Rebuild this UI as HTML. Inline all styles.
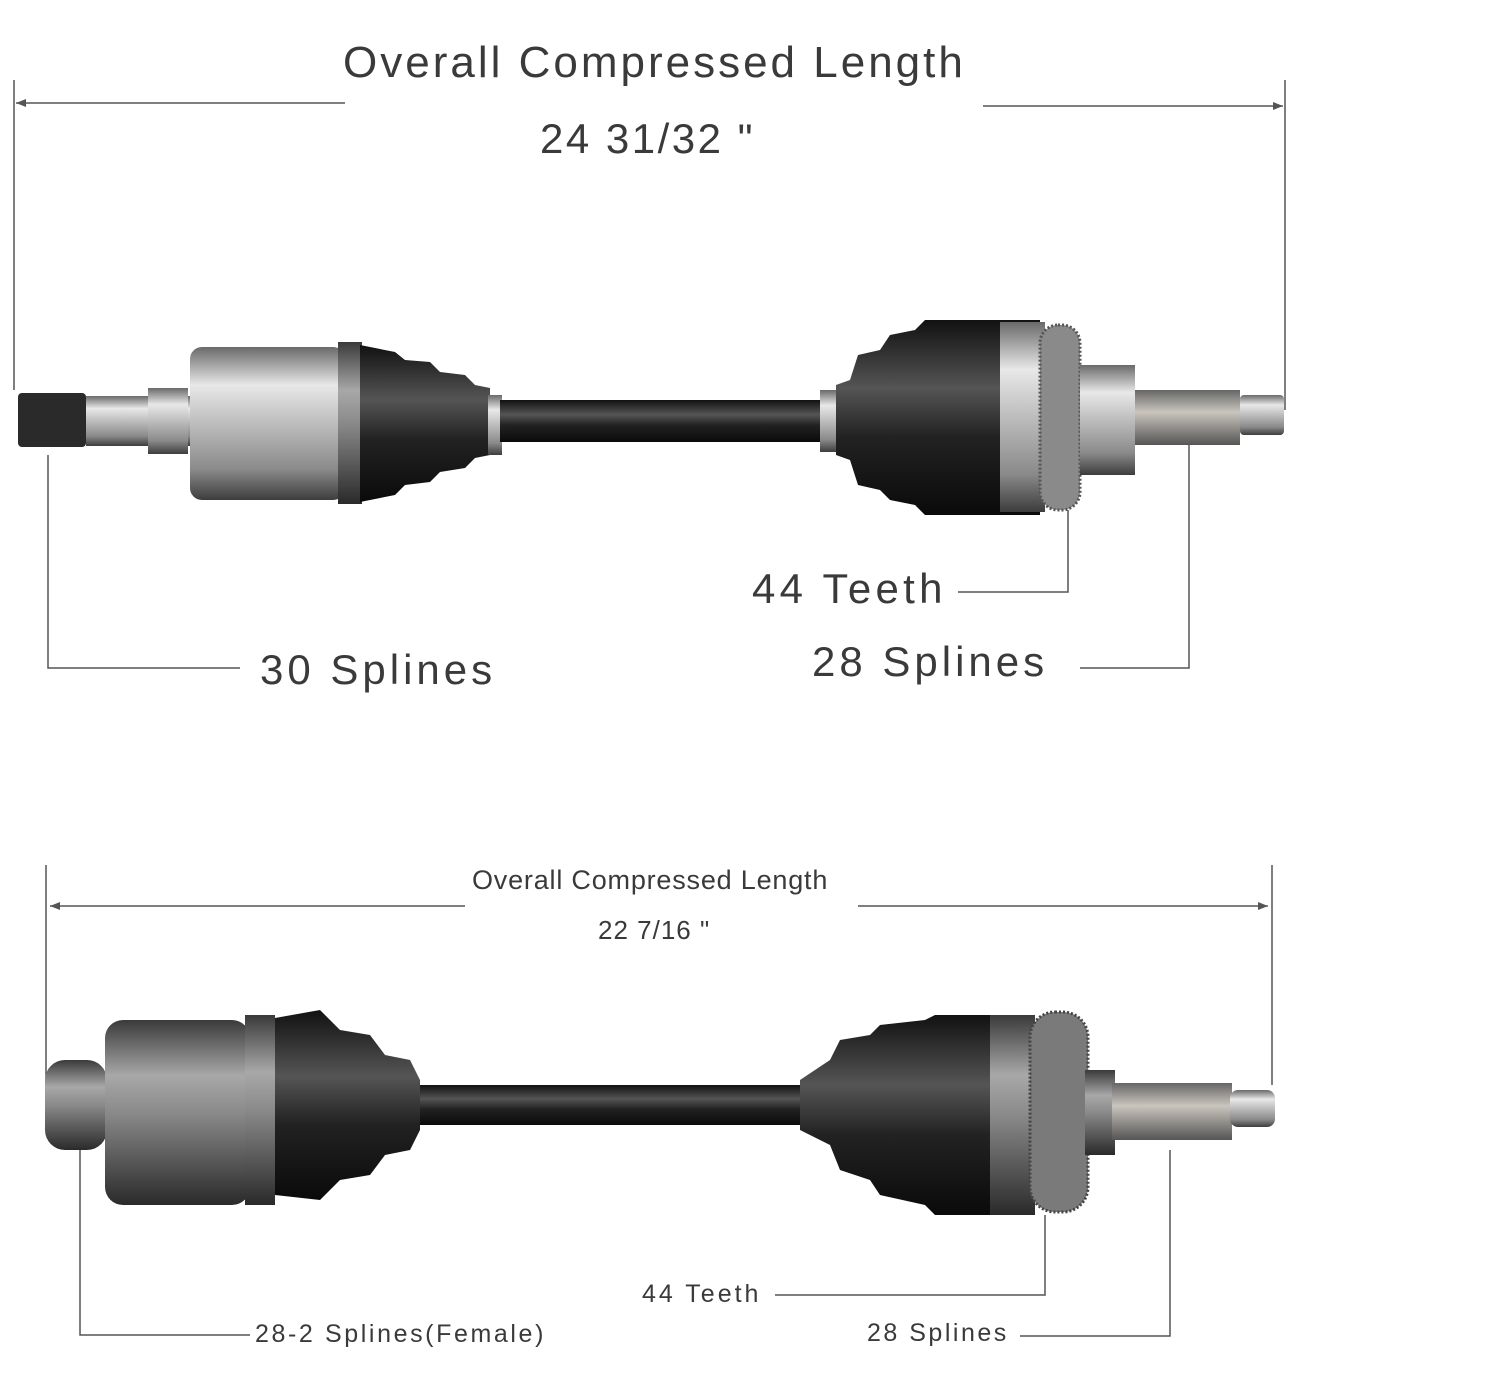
<!DOCTYPE html>
<html><head><meta charset="utf-8"><style>
html,body{margin:0;padding:0;background:#fff;}
svg{display:block;}
text{font-family:"Liberation Sans",sans-serif;fill:#3a3a3a;}
</style></head><body>
<svg width="1488" height="1390" viewBox="0 0 1488 1390" xmlns="http://www.w3.org/2000/svg">
<defs>
<linearGradient id="met" x1="0" y1="0" x2="0" y2="1">
<stop offset="0" stop-color="#6a6a6a"/><stop offset="0.25" stop-color="#e8e8e8"/><stop offset="0.5" stop-color="#bdbdbd"/><stop offset="0.8" stop-color="#8a8a8a"/><stop offset="1" stop-color="#3d3d3d"/></linearGradient>
<linearGradient id="met2" x1="0" y1="0" x2="0" y2="1">
<stop offset="0" stop-color="#3a3a3a"/><stop offset="0.3" stop-color="#a8a8a8"/><stop offset="0.5" stop-color="#8a8a8a"/><stop offset="1" stop-color="#2a2a2a"/></linearGradient>
<linearGradient id="blk" x1="0" y1="0" x2="0" y2="1">
<stop offset="0" stop-color="#111"/><stop offset="0.35" stop-color="#555"/><stop offset="0.6" stop-color="#222"/><stop offset="1" stop-color="#0a0a0a"/></linearGradient>
<linearGradient id="spl" x1="0" y1="0" x2="0" y2="1">
<stop offset="0" stop-color="#666"/><stop offset="0.4" stop-color="#c9c4bd"/><stop offset="1" stop-color="#555"/></linearGradient>
</defs>
<g stroke="#555" stroke-width="1.5" fill="none">
<line x1="14" y1="80" x2="14" y2="390"/><line x1="1285" y1="80" x2="1285" y2="410"/>
<line x1="16" y1="103" x2="345" y2="103"/><line x1="983" y1="106" x2="1283" y2="106"/>
<polyline points="48,455 48,668 240,668"/>
<polyline points="958,592 1068,592 1068,510"/>
<polyline points="1080,668 1189,668 1189,440"/>
<line x1="46" y1="865" x2="46" y2="1100"/><line x1="1272" y1="865" x2="1272" y2="1085"/>
<line x1="50" y1="906" x2="465" y2="906"/><line x1="858" y1="906" x2="1268" y2="906"/>
<polyline points="80,1150 80,1335 250,1335"/>
<polyline points="775,1295 1045,1295 1045,1215"/>
<polyline points="1020,1336 1170,1336 1170,1150"/>
</g>
<g fill="#555"><polygon points="16,103 26,99 26,107"/><polygon points="1283,106 1273,102 1273,110"/>
<polygon points="50,906 60,902 60,910"/><polygon points="1268,906 1258,902 1258,910"/></g>
<text x="343" y="77" font-size="44" letter-spacing="3">Overall Compressed Length</text>
<text x="540" y="153" font-size="42" letter-spacing="2.5">24 31/32 "</text>
<text x="260" y="684" font-size="42" letter-spacing="4">30 Splines</text>
<text x="752" y="603" font-size="42" letter-spacing="4.3">44 Teeth</text>
<text x="812" y="676" font-size="42" letter-spacing="4">28  Splines</text>
<text x="472" y="889" font-size="27" letter-spacing="0.8">Overall Compressed Length</text>
<text x="598" y="939" font-size="26" letter-spacing="1">22 7/16 "</text>
<text x="255" y="1342" font-size="25" letter-spacing="2.6">28-2 Splines(Female)</text>
<text x="642" y="1302" font-size="25" letter-spacing="3">44 Teeth</text>
<text x="867" y="1341" font-size="25" letter-spacing="2.5">28 Splines</text>

<rect x="18" y="393" width="68" height="54" rx="4" fill="#2a2a2a"/>
<rect x="86" y="396" width="105" height="50" fill="url(#met)"/>
<rect x="148" y="388" width="40" height="66" fill="url(#met)"/>
<rect x="190" y="347" width="155" height="153" rx="12" fill="url(#met)"/>
<rect x="338" y="342" width="24" height="162" fill="url(#met2)"/>
<path d="M360,345 L395,352 L405,360 L430,362 L440,372 L465,375 L475,385 L490,388 L490,455 L475,458 L465,468 L440,472 L430,482 L405,485 L395,495 L360,502 Z" fill="url(#blk)"/>
<rect x="488" y="395" width="14" height="60" fill="url(#met)"/>
<rect x="500" y="400" width="322" height="42" fill="url(#blk)"/>
<rect x="820" y="390" width="16" height="62" fill="url(#met)"/>
<path d="M836,385 L850,380 L858,355 L880,350 L890,335 L915,330 L925,320 L1040,320 L1040,515 L925,515 L915,505 L890,500 L880,490 L858,485 L850,460 L836,455 Z" fill="url(#blk)"/>
<rect x="1000" y="322" width="45" height="190" fill="url(#met)"/>
<rect x="1040" y="325" width="40" height="185" rx="18" fill="#8a8a8a" stroke="#555" stroke-dasharray="2 2" stroke-width="3"/>
<rect x="1080" y="365" width="55" height="110" fill="url(#met)"/>
<rect x="1135" y="390" width="105" height="55" fill="url(#spl)"/>
<rect x="1240" y="395" width="44" height="40" rx="4" fill="url(#met)"/>

<rect x="45" y="1060" width="62" height="90" rx="20" fill="url(#met2)"/>
<rect x="105" y="1020" width="145" height="185" rx="18" fill="url(#met2)"/>
<rect x="245" y="1015" width="30" height="190" fill="url(#met2)"/>
<path d="M275,1018 L320,1010 L340,1030 L370,1035 L385,1055 L410,1060 L420,1080 L420,1130 L410,1150 L385,1155 L370,1175 L340,1180 L320,1200 L275,1195 Z" fill="url(#blk)"/>
<rect x="420" y="1085" width="382" height="40" fill="url(#blk)"/>
<path d="M800,1080 L830,1060 L840,1040 L870,1035 L880,1025 L925,1020 L935,1015 L1035,1015 L1035,1215 L935,1215 L925,1205 L880,1195 L870,1180 L840,1170 L830,1145 L800,1130 Z" fill="url(#blk)"/>
<rect x="990" y="1015" width="45" height="200" fill="url(#met2)"/>
<rect x="1030" y="1012" width="58" height="200" rx="25" fill="#7a7a7a" stroke="#444" stroke-dasharray="2 2" stroke-width="3"/>
<rect x="1085" y="1070" width="30" height="85" fill="url(#met2)"/>
<rect x="1112" y="1083" width="120" height="57" fill="url(#spl)"/>
<rect x="1230" y="1090" width="45" height="37" rx="8" fill="url(#met)"/>
</svg>
</body></html>
